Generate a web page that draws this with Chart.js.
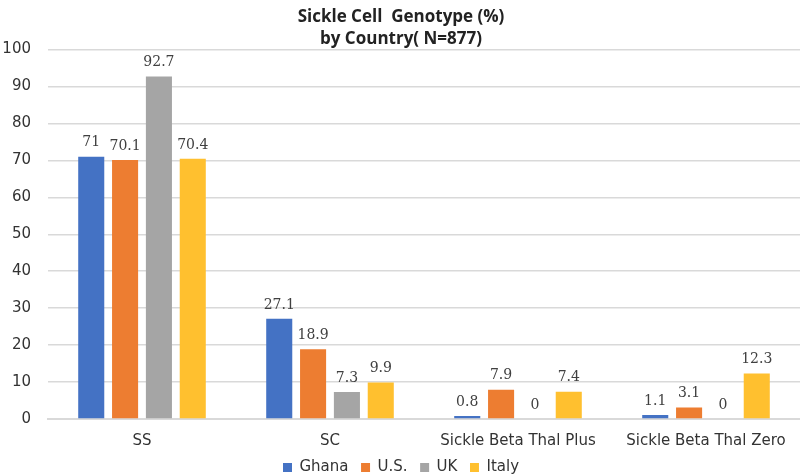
<!DOCTYPE html>
<html>
<head>
<meta charset="utf-8">
<script src="https://cdn.jsdelivr.net/npm/chart.js@4"></script>
<style>
  html, body { margin: 0; padding: 0; background: #fff; }
  #wrap { width: 800px; height: 476px; }
</style>
</head>
<body>
<div id="wrap"><canvas id="chart" width="800" height="476"></canvas></div>
<script>
// --- Data ---
const categories = ['SS', 'SC', 'Sickle Beta Thal Plus', 'Sickle Beta Thal Zero'];
const ghana = [71, 27.1, 0.8, 1.1];
const us = [70.1, 18.9, 7.9, 3.1];
const uk = [92.7, 7.3, 0, 0];
const italy = [70.4, 9.9, 7.4, 12.3];
const yTicks = [0, 10, 20, 30, 40, 50, 60, 70, 80, 90, 100];

// --- Value labels above bars ---
const valueLabels = {
  id: 'valueLabels',
  afterDatasetsDraw(chart) {
    const ctx = chart.ctx;
    ctx.save();
    ctx.font = '14px "DejaVu Serif", serif';
    ctx.fillStyle = '#404040';
    ctx.textAlign = 'center';
    ctx.textBaseline = 'bottom';
    chart.data.datasets.forEach((ds, i) => {
      chart.getDatasetMeta(i).data.forEach((bar, j) => {
        ctx.fillText(String(ds.data[j]), bar.x, bar.y - 7);
      });
    });
    ctx.restore();
  }
};

const ctx = document.getElementById('chart').getContext('2d');
new Chart(ctx, {
  type: 'bar',
  data: {
    labels: categories,
    datasets: [
      { label: 'Ghana', data: ghana, backgroundColor: '#4472c4' },
      { label: 'U.S.', data: us, backgroundColor: '#ed7d31' },
      { label: 'UK', data: uk, backgroundColor: '#a5a5a5' },
      { label: 'Italy', data: italy, backgroundColor: '#ffc02f' }
    ]
  },
  options: {
    responsive: false,
    animation: false,
    layout: { padding: { left: 2, right: 0, top: 0, bottom: -9 } },
    datasets: {
      bar: { categoryPercentage: 0.72, barPercentage: 0.77 }
    },
    plugins: {
      title: {
        display: true,
        text: ['Sickle Cell  Genotype (%)', 'by Country( N=877)'],
        color: '#222',
        font: { family: '"Open Sans", sans-serif', size: 17, weight: 'bold', lineHeight: 1.25 },
        padding: { top: 7, bottom: 0 }
      },
      legend: {
        position: 'bottom',
        labels: {
          boxWidth: 9, boxHeight: 9, padding: 3,
          color: '#333',
          font: { family: '"DejaVu Sans", sans-serif', size: 15 },
          generateLabels: (chart) => Chart.defaults.plugins.legend.labels.generateLabels(chart)
            .map((l, i, all) => ({ ...l, text: i < all.length - 1 ? l.text + '  ' : l.text }))
        }
      },
      tooltip: { enabled: false }
    },
    scales: {
      x: {
        grid: { display: false },
        border: { color: '#d9d9d9', width: 2 },
        ticks: { color: '#333', font: { family: '"DejaVu Sans", sans-serif', size: 15 }, padding: 5 },
        afterFit: (scale) => { scale.height = 38; }
      },
      y: {
        min: 0, max: 100,
        afterBuildTicks: (axis) => { axis.ticks = yTicks.map(v => ({ value: v })); },
        grid: { color: '#d9d9d9', lineWidth: 1.5, drawTicks: false },
        border: { display: false },
        ticks: { color: '#333', font: { family: '"DejaVu Sans", sans-serif', size: 15 }, padding: 17 },
        afterFit: (scale) => { scale.width = 46; }
      }
    }
  },
  plugins: [valueLabels]
});
</script>
</body>
</html>
